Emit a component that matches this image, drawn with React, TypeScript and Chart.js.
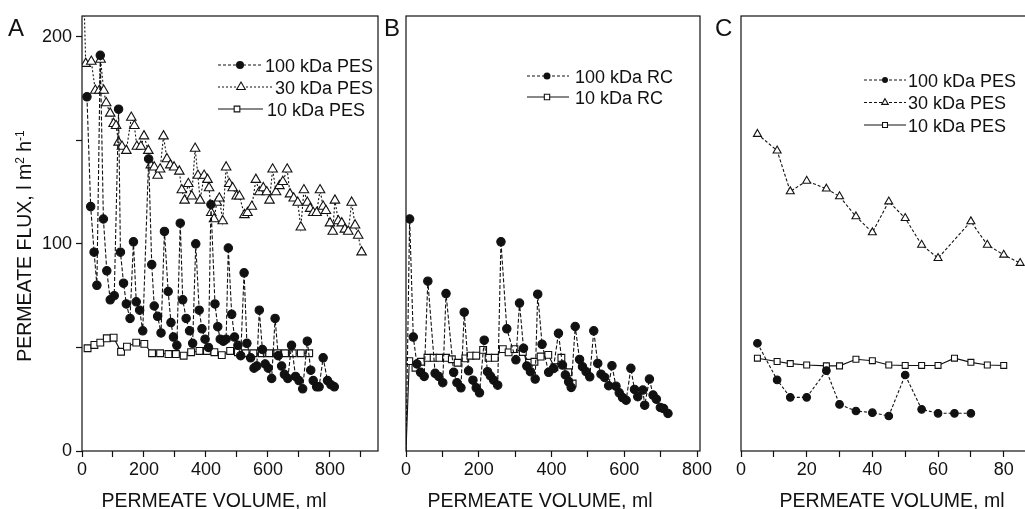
import React, { useEffect, useRef } from 'react';
import { Chart, registerables } from 'chart.js';

Chart.register(...registerables);

const FONT_FAMILY = '"Liberation Sans", Arial, Helvetica, sans-serif';
const INK = '#111';

// ---------- Panel A (PES membranes) ----------
const aPes100Vol = [16, 28, 39, 48, 59, 69, 80, 91, 104, 118, 124, 134, 143, 155, 166, 175, 186, 196, 215, 225, 233, 244, 255, 266, 278, 287, 295, 306, 317, 325, 336, 347, 357, 367, 378, 387, 397, 408, 416, 429, 438, 446, 456, 465, 472, 483, 492, 503, 512, 523, 532, 544, 555, 564, 572, 582, 591, 601, 612, 623, 633, 644, 653, 664, 676, 689, 700, 712, 727, 738, 746, 757, 765, 778, 792, 803, 814];
const aPes100Flux = [171, 118, 96, 80, 191, 112, 87, 73, 75, 165, 96, 81, 71, 64, 101, 72, 68, 58, 141, 90, 70, 65, 57, 106, 77, 62, 55, 51, 110, 73, 64, 58, 52, 100, 68, 59, 54, 50, 119, 71, 60, 54, 53, 54, 98, 66, 55, 51, 46, 86, 52, 45, 40, 41, 68, 49, 42, 40, 35, 64, 46, 41, 37, 35, 51, 36, 34, 30, 53, 39, 34, 31, 31, 45, 34, 32, 31];

const aPes30Vol = [4, 12, 30, 43, 56, 60, 70, 78, 91, 102, 110, 118, 129, 143, 159, 169, 177, 190, 200, 214, 222, 233, 244, 252, 263, 274, 285, 297, 314, 322, 331, 343, 354, 365, 374, 381, 394, 405, 410, 417, 426, 435, 443, 454, 465, 475, 486, 499, 508, 524, 534, 548, 561, 572, 585, 596, 605, 615, 626, 637, 648, 662, 671, 683, 696, 706, 716, 727, 736, 746, 757, 768, 778, 787, 800, 809, 816, 827, 838, 848, 859, 870, 881, 891, 902];
const aPes30Flux = [232, 187, 188, 174, 174, 189, 174, 168, 163, 158, 157, 149, 147, 145, 161, 157, 147, 147, 152, 145, 138, 137, 133, 136, 152, 141, 138, 137, 135, 126, 121, 129, 123, 146, 133, 121, 133, 131, 127, 115, 112, 120, 122, 111, 137, 129, 127, 123, 123, 114, 115, 118, 131, 125, 127, 125, 121, 136, 125, 128, 130, 136, 124, 122, 120, 108, 126, 120, 117, 115, 115, 126, 118, 116, 110, 106, 121, 111, 110, 107, 106, 120, 109, 104, 96];

const aPes10Vol = [18, 40, 59, 80, 102, 126, 145, 175, 201, 226, 252, 279, 303, 328, 352, 379, 403, 427, 451, 478, 503, 528, 553, 580, 604, 630, 655, 680, 706, 733];
const aPes10Flux = [49.6, 51.2, 52.3, 54.4, 54.7, 47.9, 50.4, 52.3, 51.7, 47.2, 47.2, 46.8, 46.8, 46, 47.7, 48.3, 48.3, 47.7, 46.3, 48.3, 47.7, 47.2, 47.2, 47.2, 47.2, 47.2, 47.2, 47.2, 47.2, 47.2];

// ---------- Panel B (RC membranes) ----------
const bRc100Vol = [0, 10, 20, 30, 40, 50, 60, 80, 90, 101, 110, 131, 140, 151, 160, 172, 184, 193, 202, 215, 224, 232, 241, 252, 261, 277, 302, 312, 323, 332, 342, 355, 362, 374, 392, 405, 419, 430, 438, 447, 454, 465, 477, 485, 495, 505, 516, 527, 536, 546, 557, 566, 577, 586, 595, 605, 618, 628, 637, 651, 656, 669, 679, 688, 699, 708, 720];
const bRc100Flux = [0, 112, 55, 42, 38, 36, 82, 37.5, 36, 33, 76, 38, 33, 30.5, 67, 38.7, 34.2, 30.5, 28.1, 53.5, 38.3, 36.2, 34.2, 31.8, 101, 59, 44, 71.4, 49.6, 41, 38.3, 34.7, 75.7, 51.5, 38, 39.8, 56.8, 41.5, 36.7, 33.4, 30.7, 60.1, 44.2, 40.7, 38.3, 35.8, 58, 42.3, 37.1, 35.5, 31.5, 41.2, 31.3, 28.1, 25.8, 24.5, 39.9, 29.7, 26.2, 29.4, 22.1, 34.7, 27, 25, 21, 20.5, 18.1];

const bRc10Vol = [0, 9, 26, 41, 59, 76, 92, 110, 126, 142, 163, 177, 193, 212, 227, 244, 266, 282, 298, 321, 338, 353, 370, 391, 408, 427, 446, 458];
const bRc10Flux = [0, 43.4, 40.2, 43.1, 45, 45, 45, 45, 44.3, 42.6, 44.7, 46, 46, 48.8, 45, 45, 49.2, 47.6, 49.2, 47.8, 42.6, 43.1, 45.6, 46.4, 40.4, 45, 38, 32.6];

// ---------- Panel C (PES, small volumes) ----------
const cPes100Vol = [5, 11, 15, 20, 26, 30, 35, 40, 45, 50, 55, 60, 65, 70];
const cPes100Flux = [52, 34.3, 25.9, 25.9, 38.8, 22.5, 19.3, 18.5, 16.9, 36.7, 20.1, 18.2, 18.2, 18.2];

const cPes30Vol = [5, 11, 15, 20, 26, 30, 35, 40, 45, 50, 55, 60, 70, 75, 80, 85];
const cPes30Flux = [153, 145, 125.3, 130.4, 126.6, 122.9, 113.2, 105.5, 120.4, 112.4, 99.5, 93.1, 110.8, 99.5, 94.7, 90.7];

const cPes10Vol = [5, 11, 15, 20, 26, 30, 35, 40, 45, 50, 55, 60, 65, 70, 75, 80];
const cPes10Flux = [44.8, 43.2, 42.2, 41.5, 41.1, 41.1, 44.3, 43.6, 41.5, 41.3, 41.3, 41.3, 44.8, 42.8, 41.5, 41.3];

// ---------- Axis ticks ----------
const volTicksAB = [0, 100, 200, 300, 400, 500, 600, 700, 800, 900];
const volTicksC = [0, 10, 20, 30, 40, 50, 60, 70, 80];
const fluxTicks = [0, 50, 100, 150, 200];

// ---------- Text ----------
const X_TITLE = 'PERMEATE VOLUME, ml';
const Y_TITLE_PARTS = [
  { t: 'PERMEATE FLUX, l m', sup: false },
  { t: '2', sup: true },
  { t: ' h', sup: false },
  { t: '-1', sup: true },
];
const LABEL_100_PES = '100 kDa PES';
const LABEL_30_PES = '30 kDa PES';
const LABEL_10_PES = '10 kDa PES';
const LABEL_100_RC = '100 kDa RC';
const LABEL_10_RC = '10 kDa RC';

const CANVAS_W = 1040;
const CANVAS_H = 509;

const pts = (xs: number[], ys: number[]) => xs.map((x, i) => ({ x, y: ys[i] }));

type MarkStyle = 'circle' | 'triangle' | 'rect';

function drawMarker(ctx: CanvasRenderingContext2D, style: MarkStyle, x: number, y: number, r: number) {
  ctx.save();
  ctx.setLineDash([]);
  ctx.lineWidth = 1.1;
  ctx.strokeStyle = INK;
  ctx.beginPath();
  if (style === 'circle') {
    ctx.arc(x, y, r, 0, Math.PI * 2);
    ctx.fillStyle = INK;
    ctx.fill();
  } else if (style === 'triangle') {
    ctx.moveTo(x, y - r);
    ctx.lineTo(x + r * Math.sin((2 * Math.PI) / 3), y - r * Math.cos((2 * Math.PI) / 3));
    ctx.lineTo(x + r * Math.sin((4 * Math.PI) / 3), y - r * Math.cos((4 * Math.PI) / 3));
    ctx.closePath();
    ctx.fillStyle = '#fff';
    ctx.fill();
    ctx.stroke();
  } else {
    const s = r * Math.SQRT1_2;
    ctx.rect(x - s, y - s, 2 * s, 2 * s);
    ctx.fillStyle = '#fff';
    ctx.fill();
    ctx.stroke();
  }
  ctx.restore();
}

const decorPlugin = {
  id: 'decor',
  afterDraw(chart: any, _args: any, opts: any) {
    const ctx: CanvasRenderingContext2D = chart.ctx;
    const a = chart.chartArea;
    ctx.save();
    // frame
    ctx.setLineDash([]);
    ctx.strokeStyle = INK;
    ctx.lineWidth = 1.2;
    ctx.strokeRect(a.left, a.top, a.right - a.left, a.bottom - a.top);

    // legend
    (opts.legend || []).forEach((it: any) => {
      ctx.save();
      ctx.strokeStyle = INK;
      ctx.lineWidth = 1;
      ctx.setLineDash(it.dash);
      ctx.beginPath();
      ctx.moveTo(it.x1, it.y);
      ctx.lineTo(it.x2, it.y);
      ctx.stroke();
      ctx.restore();
      drawMarker(ctx, it.style, it.mx, it.y, it.r);
      ctx.fillStyle = INK;
      ctx.font = `18px ${FONT_FAMILY}`;
      ctx.textAlign = 'left';
      ctx.textBaseline = 'alphabetic';
      ctx.fillText(it.text, it.tx, it.y + 6.5);
    });

    // panel letter
    if (opts.letter) {
      ctx.fillStyle = INK;
      ctx.font = `24px ${FONT_FAMILY}`;
      ctx.textAlign = 'left';
      ctx.textBaseline = 'alphabetic';
      ctx.fillText(opts.letter.text, opts.letter.x, opts.letter.y);
    }

    // x title
    if (opts.xTitle) {
      ctx.fillStyle = INK;
      ctx.font = `19.5px ${FONT_FAMILY}`;
      ctx.textAlign = 'center';
      ctx.textBaseline = 'alphabetic';
      ctx.fillText(opts.xTitle.text, opts.xTitle.cx, opts.xTitle.y);
    }

    // y title with superscripts
    if (opts.yTitle) {
      const main = `19.5px ${FONT_FAMILY}`;
      const sup = `12px ${FONT_FAMILY}`;
      let total = 0;
      const parts = opts.yTitle.parts.map((p: any) => {
        ctx.font = p.sup ? sup : main;
        const w = ctx.measureText(p.t).width;
        total += w;
        return { ...p, w };
      });
      ctx.translate(opts.yTitle.cx, opts.yTitle.cy);
      ctx.rotate(-Math.PI / 2);
      let x = -total / 2;
      ctx.fillStyle = INK;
      ctx.textAlign = 'left';
      ctx.textBaseline = 'alphabetic';
      parts.forEach((p: any) => {
        ctx.font = p.sup ? sup : main;
        ctx.fillText(p.t, x, p.sup ? 0 : 7);
        x += p.w;
      });
    }
    ctx.restore();
  },
};

function dataset(label: string, data: any[], style: MarkStyle, r: number, dash: number[], hideFirst = false) {
  return {
    label,
    data,
    showLine: true,
    borderColor: INK,
    borderWidth: 1.1,
    borderDash: dash,
    pointStyle: style,
    pointRadius: (c: any) => (hideFirst && c.dataIndex === 0 ? 0 : r),
    pointBackgroundColor: style === 'circle' ? INK : '#fff',
    pointBorderColor: INK,
    pointBorderWidth: 1.1,
    tension: 0,
    fill: false,
  };
}

type PanelSpec = {
  left: number;
  right: number;
  top: number;
  bottom: number;
  xMax: number;
  xTicks: number[];
  xLabelStep: number;
  showY: boolean;
  datasets: any[];
  decor: any;
};

function buildConfig(p: PanelSpec): any {
  const yWidth = p.showY ? p.left : 0;
  const xHeight = 40;
  const tickFont = { family: FONT_FAMILY, size: 18 };
  const xTickValues = p.xTicks.filter((v) => v <= p.xMax);
  return {
    type: 'line',
    data: { datasets: p.datasets },
    plugins: [decorPlugin],
    options: {
      responsive: false,
      animation: false,
      devicePixelRatio: 1,
      layout: {
        padding: {
          left: p.left - yWidth,
          right: CANVAS_W - p.right,
          top: p.top,
          bottom: CANVAS_H - p.bottom - xHeight,
        },
      },
      plugins: {
        legend: { display: false },
        tooltip: { enabled: false },
        decor: p.decor,
      },
      scales: {
        x: {
          type: 'linear',
          min: 0,
          max: p.xMax,
          afterBuildTicks: (s: any) => {
            s.ticks = xTickValues.map((v) => ({ value: v }));
          },
          afterFit: (s: any) => {
            s.height = xHeight;
          },
          border: { display: false },
          grid: {
            drawOnChartArea: false,
            drawTicks: true,
            tickLength: 6,
            color: INK,
            tickColor: INK,
            tickWidth: 1.2,
          },
          ticks: {
            autoSkip: false,
            maxRotation: 0,
            padding: 2,
            color: INK,
            font: tickFont,
            callback: (v: any) => (Math.round(v) % p.xLabelStep === 0 ? String(Math.round(v)) : ''),
          },
        },
        y: {
          type: 'linear',
          min: 0,
          max: 210,
          display: p.showY,
          afterBuildTicks: (s: any) => {
            s.ticks = fluxTicks.map((v) => ({ value: v }));
          },
          afterFit: (s: any) => {
            s.width = yWidth;
          },
          border: { display: false },
          grid: {
            drawOnChartArea: false,
            drawTicks: true,
            tickLength: 6,
            color: INK,
            tickColor: INK,
            tickWidth: 1.2,
          },
          ticks: {
            autoSkip: false,
            padding: 4,
            color: INK,
            font: tickFont,
            callback: (v: any) => (Math.round(v) % 100 === 0 ? String(Math.round(v)) : ''),
          },
        },
      },
    },
  };
}

const panelA: PanelSpec = {
  left: 82,
  right: 378,
  top: 16,
  bottom: 451,
  xMax: 955,
  xTicks: volTicksAB,
  xLabelStep: 200,
  showY: true,
  datasets: [
    dataset(LABEL_100_PES, pts(aPes100Vol, aPes100Flux), 'circle', 4.2, [4, 2]),
    dataset(LABEL_30_PES, pts(aPes30Vol, aPes30Flux), 'triangle', 5.5, [2, 2]),
    dataset(LABEL_10_PES, pts(aPes10Vol, aPes10Flux), 'rect', 4.8, []),
  ],
  decor: {
    legend: [
      { text: LABEL_100_PES, y: 65, x1: 218, x2: 263, mx: 240, tx: 265, dash: [3, 2], style: 'circle', r: 4 },
      { text: LABEL_30_PES, y: 87, x1: 218, x2: 272, mx: 241, tx: 275, dash: [2, 2], style: 'triangle', r: 5 },
      { text: LABEL_10_PES, y: 109, x1: 218, x2: 263, mx: 237, tx: 267, dash: [], style: 'rect', r: 4 },
    ],
    letter: { text: 'A', x: 8, y: 36 },
    xTitle: { text: X_TITLE, cx: 214, y: 507 },
    yTitle: { parts: Y_TITLE_PARTS, cx: 24, cy: 246 },
  },
};

const panelB: PanelSpec = {
  left: 406,
  right: 700,
  top: 16,
  bottom: 451,
  xMax: 808,
  xTicks: volTicksAB,
  xLabelStep: 200,
  showY: false,
  datasets: [
    dataset(LABEL_100_RC, pts(bRc100Vol, bRc100Flux), 'circle', 4.2, [4, 2], true),
    dataset(LABEL_10_RC, pts(bRc10Vol, bRc10Flux), 'rect', 4.8, [], true),
  ],
  decor: {
    legend: [
      { text: LABEL_100_RC, y: 76, x1: 527, x2: 569, mx: 547, tx: 575, dash: [3, 2], style: 'circle', r: 3.5 },
      { text: LABEL_10_RC, y: 97, x1: 527, x2: 569, mx: 547, tx: 575, dash: [], style: 'rect', r: 3.8 },
    ],
    letter: { text: 'B', x: 384, y: 36 },
    xTitle: { text: X_TITLE, cx: 540, y: 507 },
  },
};

const panelC: PanelSpec = {
  left: 741,
  right: 1030,
  top: 16,
  bottom: 451,
  xMax: 88,
  xTicks: volTicksC,
  xLabelStep: 20,
  showY: false,
  datasets: [
    dataset(LABEL_100_PES, pts(cPes100Vol, cPes100Flux), 'circle', 3.8, [3, 2]),
    dataset(LABEL_30_PES, pts(cPes30Vol, cPes30Flux), 'triangle', 4.6, [3, 2]),
    dataset(LABEL_10_PES, pts(cPes10Vol, cPes10Flux), 'rect', 4.2, []),
  ],
  decor: {
    legend: [
      { text: LABEL_100_PES, y: 80, x1: 864, x2: 906, mx: 885, tx: 908, dash: [3, 2], style: 'circle', r: 3 },
      { text: LABEL_30_PES, y: 102.5, x1: 864, x2: 906, mx: 885, tx: 908, dash: [3, 2], style: 'triangle', r: 3.8 },
      { text: LABEL_10_PES, y: 125, x1: 864, x2: 906, mx: 885, tx: 908, dash: [], style: 'rect', r: 3.5 },
    ],
    letter: { text: 'C', x: 715, y: 36 },
    xTitle: { text: X_TITLE, cx: 892, y: 507 },
  },
};

function Panel({ spec }: { spec: PanelSpec }) {
  const ref = useRef<HTMLCanvasElement>(null);
  useEffect(() => {
    const chart = new Chart(ref.current as HTMLCanvasElement, buildConfig(spec));
    return () => chart.destroy();
  }, [spec]);
  return (
    <canvas
      ref={ref}
      width={CANVAS_W}
      height={CANVAS_H}
      style={{ position: 'absolute', left: 0, top: 0, width: CANVAS_W, height: CANVAS_H }}
    />
  );
}

export default function App() {
  return (
    <div
      style={{
        position: 'absolute',
        left: 0,
        top: 0,
        width: 1025,
        height: 509,
        overflow: 'hidden',
        background: '#fff',
      }}
    >
      <Panel spec={panelA} />
      <Panel spec={panelB} />
      <Panel spec={panelC} />
    </div>
  );
}
